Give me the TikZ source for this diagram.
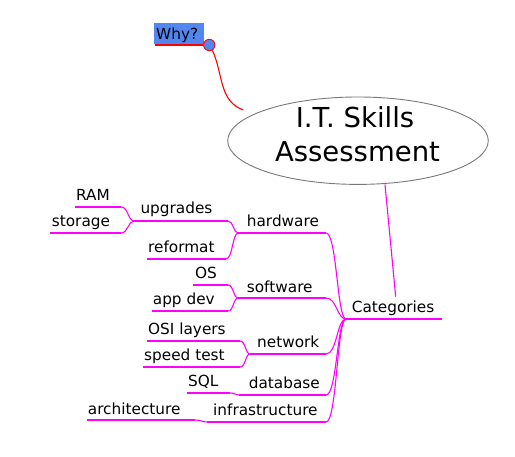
\documentclass[tikz,border=0pt]{standalone}
\usepackage{fontspec}
\setmainfont{DejaVu Sans}
\usetikzlibrary{shapes.geometric,calc}
\definecolor{mag}{RGB}{255,0,255}
\definecolor{whyblue}{RGB}{82,134,240}
\definecolor{ellgray}{RGB}{120,120,120}
\newcommand\mmlink[2]{\coordinate (mmmid) at ($(#1)!0.55!(#2)$);
  \draw[conn] (#1) .. controls (mmmid |- #1) and (mmmid |- #2) .. (#2);}
\begin{document}
\begin{tikzpicture}[x=1pt,y=-1pt,
  lbl/.style={anchor=base west,inner sep=0pt,font=\fontsize{15.3}{18}\selectfont,text=black},
  uline/.style={draw=mag,line width=1.2pt},
  conn/.style={draw=mag,line width=1.1pt},
  redline/.style={draw=red,line width=1.1pt}]
\useasboundingbox (0,0) rectangle (515,457);
% title ellipse
\node[draw=ellgray,line width=0.9pt,ellipse,minimum width=260.6pt,minimum height=87.4pt,inner sep=0pt] (title) at (358,140.7) {};
\node[anchor=base,inner sep=0pt,font=\fontsize{27.5}{30}\selectfont] (t1) at (355,127.7) {I.T. Skills};
\node[anchor=base,inner sep=0pt,font=\fontsize{27.5}{30}\selectfont] (t2) at (357.5,161.7) {Assessment};
% Why?
\node[fill=whyblue,anchor=north west,minimum width=49.5pt,minimum height=20.7pt,inner sep=0pt] (whybox) at (154,23.3) {};
\node[lbl] (why) at (156,40) {Why?};
\coordinate (whyl) at (154.5,45);
\node[circle,draw=red,fill=whyblue,line width=0.9pt,minimum size=11.4pt,inner sep=0pt] (whyc) at (209.3,45) {};
\coordinate (ellred) at (243.3,110);
\draw[redline,line width=1.2pt] (whyl) -- (whyc.west);
\draw[redline] (whyc.-60) to[out=-65,in=160] (ellred);
% Categories
\node[lbl] (cat) at (351.7,312.7) {Categories};
\coordinate (catl) at (346,319);
\coordinate (catr) at (441.7,319);
\draw[uline] (catl) -- (catr);
\coordinate (tb) at (385,184.5);
\coordinate (ct) at (395.7,296.7);
\draw[conn] (tb) -- (ct);
% level 2
\node[lbl] (hw) at (246.7,226.7) {hardware};
\coordinate (hwl) at (238,233); \coordinate (hwr) at (326,233);
\node[lbl] (sw) at (246.7,292.3) {software};
\coordinate (swl) at (238,298); \coordinate (swr) at (326,298);
\node[lbl] (nw) at (257,347.7) {network};
\coordinate (nwl) at (250,354); \coordinate (nwr) at (326,354);
\node[lbl] (db) at (248.7,389) {database};
\coordinate (dbl) at (239,395); \coordinate (dbr) at (326,395);
\node[lbl] (inf) at (213,416) {infrastructure};
\coordinate (infl) at (207,422); \coordinate (infr) at (326,422);
\foreach \n in {hw,sw,nw,db,inf}{
  \draw[uline] (\n l) -- (\n r);
  \mmlink{\n r}{catl}
}
% level 3
\node[lbl] (up) at (140.3,214) {upgrades};
\coordinate (upl) at (134,221); \coordinate (upr) at (228,221);
\node[lbl] (rf) at (148,252.7) {reformat};
\coordinate (rfl) at (147,259); \coordinate (rfr) at (226,259);
\foreach \n in {up,rf}{
  \draw[uline] (\n l) -- (\n r);
  \mmlink{\n r}{hwl}
}
\node[lbl] (os) at (195,279) {OS};
\coordinate (osl) at (193,285); \coordinate (osr) at (228,285);
\node[lbl] (ad) at (152.7,305) {app dev};
\coordinate (adl) at (152,311); \coordinate (adr) at (228,311);
\foreach \n in {os,ad}{
  \draw[uline] (\n l) -- (\n r);
  \mmlink{\n r}{swl}
}
\node[lbl] (osi) at (148,335) {OSI layers};
\coordinate (osil) at (147,341); \coordinate (osir) at (240,341);
\node[lbl] (st) at (144,361) {speed test};
\coordinate (stl) at (143,367); \coordinate (str) at (240,367);
\foreach \n in {osi,st}{
  \draw[uline] (\n l) -- (\n r);
  \mmlink{\n r}{nwl}
}
\node[lbl] (sql) at (188,386.7) {SQL};
\coordinate (sqll) at (187,393); \coordinate (sqlr) at (230,393);
\draw[uline] (sqll) -- (sqlr);
\mmlink{sqlr}{dbl}
\node[lbl] (arch) at (87.7,414.5) {architecture};
\coordinate (archl) at (87,420); \coordinate (archr) at (195,420);
\draw[uline] (archl) -- (archr);
\mmlink{archr}{infl}
% level 4
\node[lbl] (ram) at (76,200.7) {RAM};
\coordinate (raml) at (75,207); \coordinate (ramr) at (121,207);
\node[lbl] (sto) at (51.7,226.7) {storage};
\coordinate (stol) at (50,233); \coordinate (stor) at (121,233);
\foreach \n in {ram,sto}{
  \draw[uline] (\n l) -- (\n r);
  \mmlink{\n r}{upl}
}
\end{tikzpicture}
\end{document}
